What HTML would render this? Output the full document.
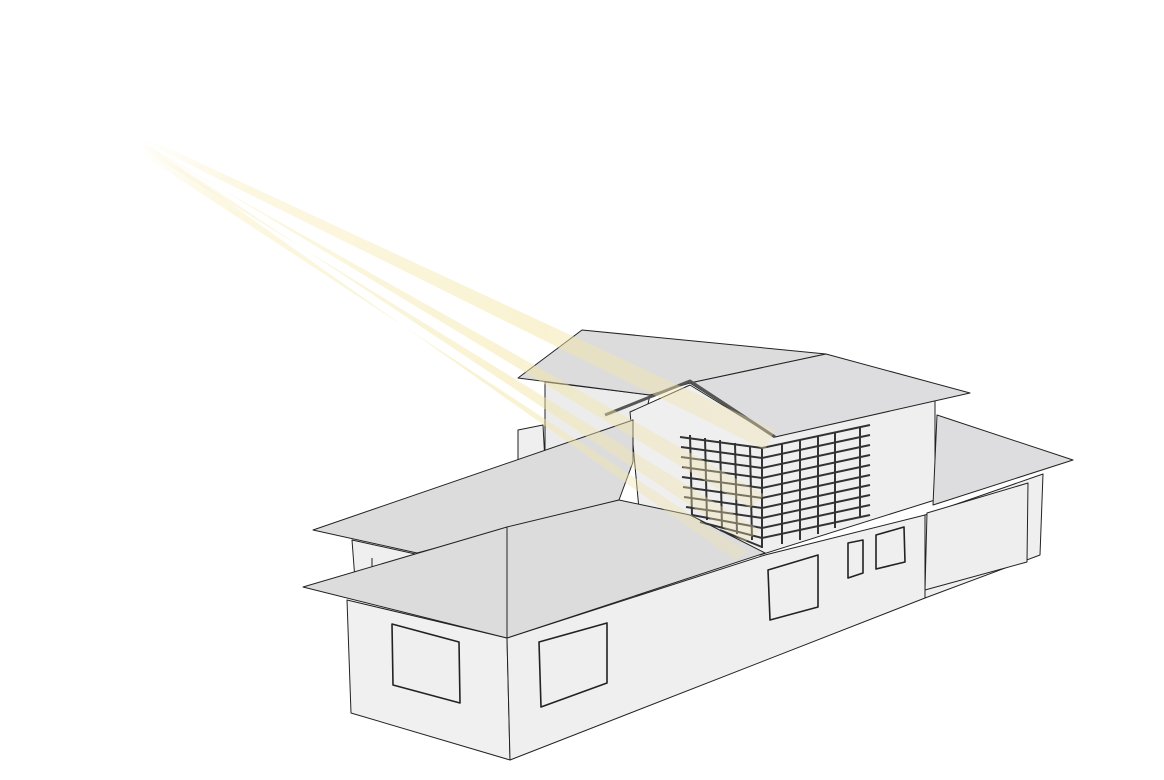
<!DOCTYPE html>
<html><head><style>html,body{margin:0;padding:0;background:#fff;}svg{display:block}</style></head>
<body>
<svg width="1164" height="780" viewBox="0 0 1164 780" xmlns="http://www.w3.org/2000/svg">
<defs>
<linearGradient id="ray" gradientUnits="userSpaceOnUse" x1="140" y1="140" x2="760" y2="540">
<stop offset="0" stop-color="#f6e9a8" stop-opacity="0"/>
<stop offset="0.15" stop-color="#f6e9a8" stop-opacity="0.35"/>
<stop offset="0.6" stop-color="#f3e6a6" stop-opacity="0.5"/>
<stop offset="1" stop-color="#efe3b0" stop-opacity="0.35"/>
</linearGradient>
</defs>
<g stroke="#222" stroke-width="1" stroke-linejoin="round">
<polygon points="518,430 543,425 545,462 518,465" fill="#efeff0"/>
<polygon points="545,382 650,395 640,440 545,460" fill="#ececed"/>
<polygon points="518,378 582,330 826,354 690,383 650,395" fill="#dcdcdd"/>
<polygon points="630,412 690,385 775,437 935,395 935,500 760,555 640,520" fill="#efeff0"/>
<polygon points="690,383 826,354 970,393 775,437" fill="#dddddf"/>
<polyline points="605,415 690,381 775,437" fill="none" stroke-width="3" stroke="#555"/>
<polygon points="937,415 1073,460 933,505" fill="#dddddf"/>
<polygon points="925,515 1043,474 1040,555 925,598" fill="#efeff0"/>
<polygon points="927,513 1028,483 1027,562 925,590" fill="#eeeeef"/>
<polygon points="352,540 420,555 420,575 355,580" fill="#efeff0"/>
<line x1="372" y1="558" x2="372" y2="570"/>
<polygon points="313,530 633,420 633,462 619,500 417,553" fill="#dcdcdd"/>
<polygon points="347,600 351,713 510,760 507,638" fill="#f0f0f1"/>
<polygon points="507,638 510,760 925,598 925,515 765,555" fill="#efeff0"/>
<polygon points="303,587 507,527 507,638" fill="#dcdcdd"/>
<polygon points="507,527 619,500 690,515 765,553 507,638" fill="#dcdcdd"/>
<line x1="507" y1="527" x2="507" y2="638"/>
<polygon points="392,624 459,642 460,703 393,685" fill="#efeff0" stroke-width="1.6"/>
<polygon points="539,642 607,623 607,683 541,707" fill="#efeff0" stroke-width="1.6"/>
<polygon points="768,570 818,555 818,607 770,620" fill="#efeff0" stroke-width="1.6"/>
<polygon points="848,543 863,540 863,573 848,578" fill="#efeff0" stroke-width="1.6"/>
<polygon points="876,535 904,527 905,562 876,569" fill="#efeff0" stroke-width="1.6"/>
</g>
<g stroke="#333" stroke-width="2" fill="none">
<path d="M680,437 L762,448 L870,425 M681,447 L762,458 L870,435 M681,457 L762,468 L870,445 M682,467 L762,478 L870,455 M682,477 L762,488 L870,465 M683,487 L762,498 L870,475 M684,497 L762,508 L870,485 M686,507 L762,518 L870,495 M692,515 L762,528 L870,505 M700,522 L762,538 L870,515 M720,530 L762,547"/>
<path d="M690,435 L692,515 M705,438 L707,520 M720,440 L722,528 M735,443 L737,534 M750,446 L752,540 M762,448 L762,548 M782,444 L782,544 M800,440 L800,540 M818,436 L818,534 M835,432 L835,528 M860,428 L860,518"/>
</g>
<g fill="url(#ray)">
<polygon points="140,140 155,142 775,430 765,450"/>
<polygon points="140,140 152,150 765,495 750,508"/>
<polygon points="140,140 150,154 760,530 745,542"/>
<polygon points="140,140 147,158 748,552 735,560"/>
</g>
</svg>
</body></html>
